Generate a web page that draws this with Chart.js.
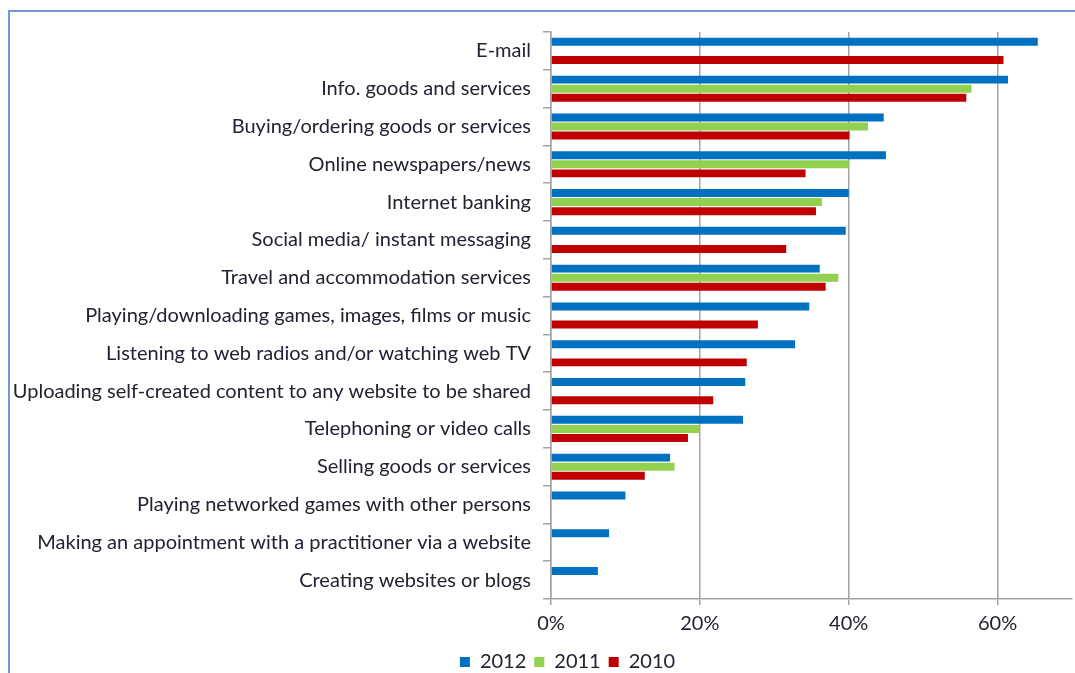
<!DOCTYPE html>
<html>
<head>
<meta charset="utf-8">
<script src="https://cdn.jsdelivr.net/npm/chart.js@4"></script>
<style>
	html, body { margin: 0; padding: 0; background: #fff; overflow: hidden; }
	#wrap { position: relative; width: 1075px; height: 700px; }
	#frame { position: absolute; left: 8px; top: 10px; width: 1200px; height: 800px; border: 2px solid #6f9ad6; box-sizing: border-box; }
	canvas { position: absolute; left: 0; top: 0; }
</style>
</head>
<body>
<div id="wrap">
	<div id="frame"></div>
	<canvas id="usageChart" width="1075" height="700"></canvas>
</div>
<script>
const categories = [
	"E-mail",
	"Info. goods and services",
	"Buying/ordering goods or services",
	"Online newspapers/news",
	"Internet banking",
	"Social media/ instant messaging",
	"Travel and accommodation services",
	"Playing/downloading games, images, films or music",
	"Listening to web radios and/or watching web TV",
	"Uploading self-created content to any website to be shared",
	"Telephoning or video calls",
	"Selling goods or services",
	"Playing networked games with other persons",
	"Making an appointment with a practitioner via a website",
	"Creating websites or blogs"
];
const values2012 = [65.4, 61.4, 44.7, 45.0, 40.0, 39.6, 36.1, 34.7, 32.8, 26.1, 25.8, 16.0, 10.0, 7.8, 6.3];
const values2011 = [null, 56.5, 42.6, 40.0, 36.4, null, 38.6, null, null, null, 20.0, 16.6, null, null, null];
const values2010 = [60.8, 55.8, 40.1, 34.2, 35.6, 31.6, 36.9, 27.8, 26.3, 21.8, 18.4, 12.6, null, null, null];
const xTicks = [0, 20, 40, 60];

const fontFamily = "Lato, 'Open Sans', sans-serif";
const textColor = "#222233";
const axisGray = "#a3a3a3";

// legend sits a bit right of the canvas centre in the original
const shiftLegend = {
	id: "shiftLegend",
	afterLayout(chart) {
		if (chart.legend) chart.legend.left += 63;
	}
};

new Chart(document.getElementById("usageChart"), {
	type: "bar",
	data: {
		labels: categories,
		datasets: [
			{ label: "2012", data: values2012, backgroundColor: "#0070c0" },
			{ label: "2011", data: values2011, backgroundColor: "#92d050" },
			{ label: "2010", data: values2010, backgroundColor: "#c00000" }
		]
	},
	plugins: [shiftLegend],
	options: {
		indexAxis: "y",
		responsive: false,
		animation: false,
		categoryPercentage: 0.72,
		barPercentage: 0.88,
		layout: { padding: { top: 32, right: 3, bottom: 18, left: 0 } },
		plugins: {
			legend: {
				position: "bottom",
				labels: {
					boxWidth: 10,
					boxHeight: 10,
					padding: 8,
					color: textColor,
					font: { family: fontFamily, size: 20 }
				}
			},
			tooltip: { enabled: false }
		},
		scales: {
			x: {
				min: 0,
				max: 70,
				afterFit: (scale) => { scale.height = 45; },
				afterBuildTicks: (scale) => {
					scale.ticks = xTicks.map((v) => ({ value: v }));
				},
				ticks: {
					padding: 7,
					color: textColor,
					font: { family: fontFamily, size: 20 },
					callback: (v) => v + "%"
				},
				grid: { color: axisGray, lineWidth: 1.5, tickLength: 6 },
				border: { color: axisGray, width: 1.5 }
			},
			y: {
				afterFit: (scale) => { scale.width = 551; },
				ticks: {
					padding: 12,
					color: textColor,
					font: { family: fontFamily, size: 20 },
					autoSkip: false
				},
				grid: { drawOnChartArea: false, color: axisGray, lineWidth: 1.5, tickLength: 8 },
				border: { color: axisGray, width: 1.5 }
			}
		}
	}
});
</script>
</body>
</html>
